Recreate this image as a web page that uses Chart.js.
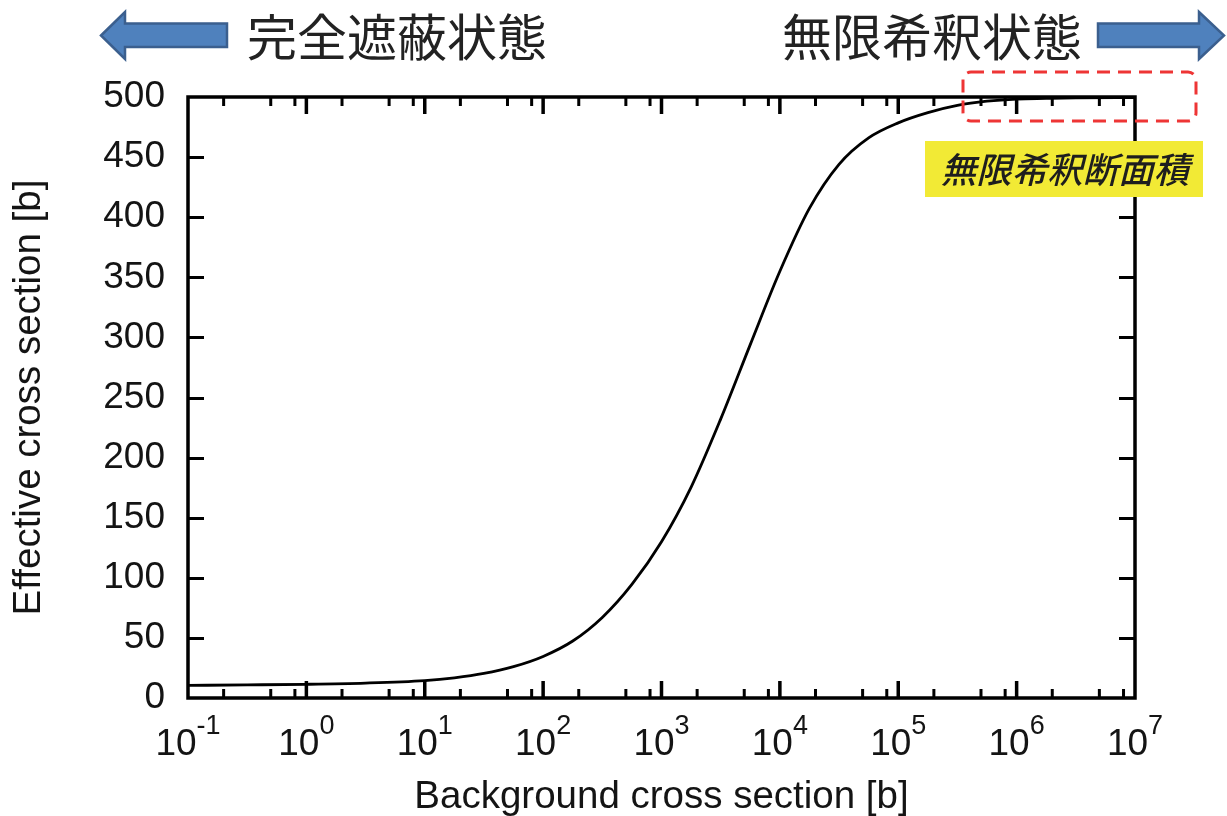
<!DOCTYPE html>
<html>
<head>
<meta charset="utf-8">
<title>Effective cross section vs background cross section</title>
<script src="https://cdn.jsdelivr.net/npm/chart.js@4.4.1/dist/chart.umd.min.js"></script>
<style>
  html, body { margin: 0; padding: 0; background: #ffffff; }
  #wrap { position: relative; width: 1227px; height: 816px; }
</style>
</head>
<body>
<div id="wrap"><canvas id="chart"></canvas></div>
<script>
// Background cross section [b] (log axis) and the matching effective cross section [b]
const backgroundXS = [0.1, 0.316, 1, 3.16, 10, 17.8, 31.6, 56.2, 100, 178, 316, 562, 1000, 1780, 3160, 5620,
  10000, 17800, 31600, 56200, 100000, 178000, 316000, 562000, 1000000, 1780000, 3160000, 10000000];
const effectiveXS = [10.5, 10.9, 11.4, 12.4, 14.5, 16.8, 20.4, 26.1, 34.6, 47.4, 67.0, 94.5, 130, 175.5, 232, 294,
  355, 407.5, 444, 466, 478.5, 487, 493, 496.5, 498.3, 498.8, 499.2, 499.5];

// Axis ticks
const yTicks = [0, 50, 100, 150, 200, 250, 300, 350, 400, 450, 500];
const xDecadeExponents = [-1, 0, 1, 2, 3, 4, 5, 6, 7];
const xMinorMultipliers = [2, 5, 8];

// Texts
const xTitle = 'Background cross section [b]';
const yTitle = 'Effective cross section [b]';
const leftHeading = '完全遮蔽状態';
const rightHeading = '無限希釈状態';
const calloutLabel = '無限希釈断面積';

const LATIN = '"Liberation Sans", Arial, sans-serif';
const CJK = '"Noto Sans CJK JP", "Noto Sans CJK SC", sans-serif';
const INK = '#141414';

// Frame, inward tick marks on all four sides, and superscript decade labels
const frameAndTicks = {
  id: 'frameAndTicks',
  afterDatasetsDraw(chart) {
    const { ctx, chartArea: a, scales: { x, y } } = chart;
    ctx.save();
    ctx.strokeStyle = '#000';
    ctx.lineCap = 'butt';

    ctx.lineWidth = 3;
    yTicks.forEach(v => {
      if (v === 0 || v === 500) return;
      const py = Math.round(y.getPixelForValue(v)) + 0.5;
      ctx.beginPath();
      ctx.moveTo(a.left, py); ctx.lineTo(a.left + 16, py);
      ctx.moveTo(a.right, py); ctx.lineTo(a.right - 16, py);
      ctx.stroke();
    });

    xDecadeExponents.forEach(e => {
      const px = x.getPixelForValue(Math.pow(10, e));
      ctx.lineWidth = 3.5;
      if (e > -1 && e < 7) {
        ctx.beginPath();
        ctx.moveTo(px, a.bottom); ctx.lineTo(px, a.bottom - 17);
        ctx.moveTo(px, a.top); ctx.lineTo(px, a.top + 17);
        ctx.stroke();
      }
      if (e < 7) {
        ctx.lineWidth = 3;
        xMinorMultipliers.forEach(m => {
          const mx = x.getPixelForValue(m * Math.pow(10, e));
          ctx.beginPath();
          ctx.moveTo(mx, a.bottom); ctx.lineTo(mx, a.bottom - 9);
          ctx.moveTo(mx, a.top); ctx.lineTo(mx, a.top + 9);
          ctx.stroke();
        });
      }
    });

    ctx.lineWidth = 3.5;
    ctx.strokeRect(a.left, a.top, a.right - a.left, a.bottom - a.top);

    // decade labels 10^n
    ctx.fillStyle = INK;
    ctx.textBaseline = 'alphabetic';
    ctx.textAlign = 'left';
    const baseFont = '37px ' + LATIN;
    const expFont = '27px ' + LATIN;
    xDecadeExponents.forEach(e => {
      const px = x.getPixelForValue(Math.pow(10, e));
      const exp = String(e);
      ctx.font = baseFont;
      const wb = ctx.measureText('10').width;
      ctx.font = expFont;
      const we = ctx.measureText(exp).width;
      const start = px - (wb + we) / 2;
      ctx.font = baseFont;
      ctx.fillText('10', start, 755);
      ctx.font = expFont;
      ctx.fillText(exp, start + wb, 734);
    });
    ctx.restore();
  }
};

// Headings with arrows, the dashed highlight and the yellow callout
const annotations = {
  id: 'annotations',
  afterDraw(chart) {
    const { ctx } = chart;
    ctx.save();

    const arrow = pts => {
      ctx.beginPath();
      pts.forEach((p, i) => (i ? ctx.lineTo(p[0], p[1]) : ctx.moveTo(p[0], p[1])));
      ctx.closePath();
      ctx.fillStyle = '#4F81BD';
      ctx.fill();
      ctx.lineWidth = 2.5;
      ctx.strokeStyle = '#3B5F8E';
      ctx.lineJoin = 'miter';
      ctx.stroke();
    };
    arrow([[101, 35.5], [125, 12], [125, 23.5], [227, 23.5], [227, 47], [125, 47], [125, 59]]);
    arrow([[1098, 23.5], [1199, 23.5], [1199, 12], [1224, 35.5], [1199, 59], [1199, 47], [1098, 47]]);

    ctx.fillStyle = '#222';
    ctx.font = '50px ' + CJK;
    ctx.textBaseline = 'middle';
    ctx.textAlign = 'left';
    ctx.fillText(leftHeading, 247, 37);
    ctx.fillText(rightHeading, 782, 37);

    ctx.setLineDash([13, 8]);
    ctx.lineWidth = 3;
    ctx.strokeStyle = '#EE3535';
    ctx.beginPath();
    ctx.roundRect(963, 72, 233, 49, 8);
    ctx.stroke();
    ctx.setLineDash([]);

    ctx.fillStyle = '#F2EA35';
    ctx.fillRect(925, 141, 278, 56);
    ctx.fillStyle = '#1e1e1e';
    ctx.font = 'italic 500 35.5px ' + CJK;
    ctx.textAlign = 'center';
    ctx.fillText(calloutLabel, 1065, 170);
    ctx.restore();
  }
};

new Chart(document.getElementById('chart'), {
  type: 'line',
  data: {
    datasets: [{
      data: backgroundXS.map((v, i) => ({ x: v, y: effectiveXS[i] })),
      borderColor: '#000',
      borderWidth: 2.8,
      pointRadius: 0,
      fill: false,
      cubicInterpolationMode: 'monotone'
    }]
  },
  options: {
    responsive: true,
    maintainAspectRatio: false,
    animation: false,
    devicePixelRatio: 1,
    layout: { padding: { top: 97, right: 92, bottom: 0, left: 0 } },
    plugins: { legend: { display: false }, tooltip: { enabled: false } },
    scales: {
      x: {
        type: 'logarithmic',
        min: 0.1,
        max: 1e7,
        grid: { display: false },
        border: { display: false },
        ticks: { display: false },
        title: {
          display: true, text: xTitle, color: INK,
          font: { family: LATIN, size: 38.5 }, padding: { top: 0, bottom: -4 }
        },
        afterFit(scale) { scale.height = 118; }
      },
      y: {
        type: 'linear',
        min: 0,
        max: 500,
        grid: { display: false, drawTicks: false },
        border: { display: false },
        ticks: {
          stepSize: 50, color: INK, padding: 23,
          font: { family: LATIN, size: 37 },
          callback: v => (yTicks.includes(v) ? String(v) : '')
        },
        title: {
          display: true, text: yTitle, color: INK,
          font: { family: LATIN, size: 38.5 }, padding: { top: 6, bottom: 0 }
        },
        afterFit(scale) { scale.width = 188; }
      }
    }
  },
  plugins: [frameAndTicks, annotations]
});
</script>
</body>
</html>
